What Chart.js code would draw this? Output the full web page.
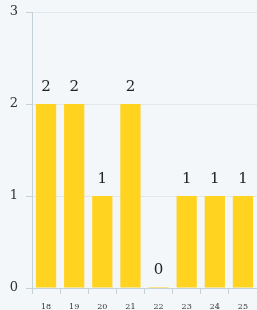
<!DOCTYPE html>
<html><head><meta charset="utf-8">
<script src="https://cdn.jsdelivr.net/npm/chart.js@4/dist/chart.umd.min.js"></script>
<style>html,body{margin:0;padding:0;background:#f3f7f9;}#w{width:257px;height:310px;}</style>
</head><body><div id="w"><canvas id="c"></canvas></div>
<script>
const categories = ["18","19","20","21","22","23","24","25"];
const counts = [2,2,1,2,0,1,1,1];
const yTicks = [0,1,2,3];

const labelPlugin = {
  id:'vals',
  afterDatasetsDraw(chart){
    const ctx = chart.ctx;
    const meta = chart.getDatasetMeta(0);
    ctx.save();
    ctx.font = '15px "DejaVu Serif"';
    ctx.fillStyle = '#222';
    ctx.textAlign = 'center';
    ctx.textBaseline = 'bottom';
    meta.data.forEach((el,i)=>{
      ctx.fillText(String(counts[i]), el.x, el.y - 9);
    });
    ctx.restore();
  }
};

new Chart(document.getElementById('c'), {
  type:'bar',
  data:{labels:categories, datasets:[{data:counts, backgroundColor:'#ffd320', borderWidth:0, barPercentage:0.72, categoryPercentage:1, minBarLength:1}]},
  options:{
    responsive:true, maintainAspectRatio:false, animation:false,
    layout:{padding:{top:0,right:0,left:0,bottom:0}},
    plugins:{legend:{display:false}, tooltip:{enabled:false}},
    scales:{
      x:{
        afterFit(s){ s.height = 22; },
        grid:{display:true, drawOnChartArea:false, drawTicks:true, tickLength:6, color:'#c5d2da'},
        border:{display:true, color:'#c5d2da'},
        ticks:{font:{family:'DejaVu Serif', size:8}, color:'#333', padding:8}
      },
      y:{
        min:0, max:3,
        afterFit(s){ s.width = 32; s.paddingTop = 12; s.paddingBottom = 0; },
        afterBuildTicks(s){ s.ticks = yTicks.map(v=>({value:v})); },
        grid:{color:'#e1e7eb', tickLength:6, tickColor:'#c5d2da'},
        border:{display:true, color:'#c5d2da'},
        ticks:{font:{family:'DejaVu Serif', size:13, lineHeight:1}, color:'#333', padding:8}
      }
    }
  },
  plugins:[labelPlugin]
});
</script></body></html>
